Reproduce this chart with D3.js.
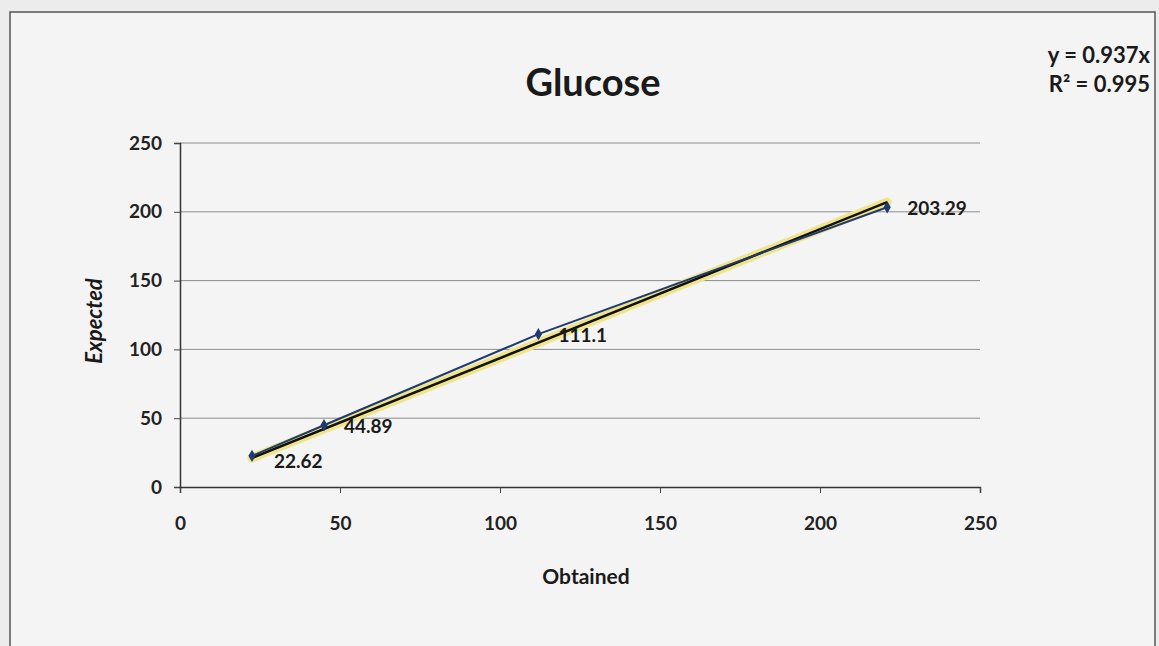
<!DOCTYPE html>
<html>
<head>
  <meta charset="utf-8">
  <title>Glucose</title>
  <script src="https://d3js.org/d3.v7.min.js"></script>
  <style>
    body { margin: 0; background: #ececec; }
    svg { display: block; }
    .tick text { font-family: "Lato", "Open Sans", sans-serif; font-size: 19px; font-weight: bold; fill: #222; }
  </style>
</head>
<body>
  <svg id="chart"></svg>
  <script>
    // Glucose: obtained vs expected
    const obtained = [22.5, 45, 112, 221];
    const expected = [22.62, 44.89, 111.1, 203.29];
    const ticks = [0, 50, 100, 150, 200, 250];
    const slope = 0.937;
    const equation = ["y = 0.937x", "R² = 0.995"];

    const W = 1159, H = 646;
    const svg = d3.select("#chart").attr("width", W).attr("height", H);

    // page / frame
    svg.append("rect").attr("x", 0).attr("y", 0).attr("width", W).attr("height", H).attr("fill", "#ececec");
    svg.append("rect").attr("x", 10).attr("y", 12).attr("width", 1145).attr("height", 650)
      .attr("fill", "#f4f4f4").attr("stroke", "#555").attr("stroke-width", 1.5);

    const x = d3.scaleLinear().domain([0, 250]).range([180, 980]);
    const y = d3.scaleLinear().domain([0, 250]).range([487, 143]);

    // gridlines
    svg.append("g")
      .selectAll("line")
      .data(ticks.slice(1))
      .enter().append("line")
      .attr("x1", x(0)).attr("x2", x(250))
      .attr("y1", d => y(d)).attr("y2", d => y(d))
      .attr("stroke", "#8c8c8c").attr("stroke-width", 1);

    // axes
    const xAxis = svg.append("g")
      .attr("transform", `translate(0,${y(0)})`)
      .call(d3.axisBottom(x).tickValues(ticks).tickSize(6).tickPadding(24));
    xAxis.select(".domain").attr("stroke", "#333").attr("stroke-width", 1.5);
    xAxis.selectAll(".tick line").attr("stroke", "#444");

    const yAxis = svg.append("g")
      .attr("transform", `translate(${x(0)},0)`)
      .call(d3.axisLeft(y).tickValues(ticks).tickSize(6).tickPadding(12));
    yAxis.select(".domain").attr("stroke", "#333").attr("stroke-width", 1.5);
    yAxis.selectAll(".tick line").attr("stroke", "#444");

    const pts = obtained.map((o, i) => ({ x: o, y: expected[i] }));

    // trendline y = 0.937x (highlighted)
    const xr = d3.extent(obtained);
    const trend = [{ x: xr[0], y: slope * xr[0] }, { x: xr[1], y: slope * xr[1] }];
    const line = d3.line().x(d => x(d.x)).y(d => y(d.y));
    svg.append("path").datum(trend).attr("d", line)
      .attr("fill", "none").attr("stroke", "#efe48a").attr("stroke-width", 9).attr("stroke-linecap", "round");
    svg.append("path").datum(trend).attr("d", line)
      .attr("fill", "none").attr("stroke", "#111").attr("stroke-width", 2.5);

    // series line + markers
    svg.append("path").datum(pts).attr("d", line)
      .attr("fill", "none").attr("stroke", "#1f3a6e").attr("stroke-width", 2);
    svg.append("g").selectAll("path")
      .data(pts).enter().append("path")
      .attr("d", d3.symbol().type(d3.symbolDiamond).size(45))
      .attr("transform", d => `translate(${x(d.x)},${y(d.y)})`)
      .attr("fill", "#1f3a6e");

    // data labels
    const lblOff = [[22, 12], [20, 8], [20, 8], [20, 8]];
    svg.append("g").selectAll("text")
      .data(pts).enter().append("text")
      .attr("x", (d, i) => x(d.x) + lblOff[i][0])
      .attr("y", (d, i) => y(d.y) + lblOff[i][1])
      .attr("font-family", "Lato, 'Open Sans', sans-serif")
      .attr("font-size", 19).attr("font-weight", "bold").attr("fill", "#1a1a1a")
      .text(d => d.y);

    // title
    svg.append("text").attr("x", 593).attr("y", 96).attr("text-anchor", "middle")
      .attr("font-family", "Lato, 'Open Sans', sans-serif").attr("font-size", 38).attr("font-weight", "bold")
      .attr("fill", "#1a1a1a").text("Glucose");

    // axis titles
    svg.append("text").attr("transform", "translate(102,321) rotate(-90)").attr("text-anchor", "middle")
      .attr("font-family", "Lato, 'Open Sans', sans-serif").attr("font-size", 22).attr("font-weight", "bold")
      .attr("font-style", "italic").attr("fill", "#1a1a1a").text("Expected");
    svg.append("text").attr("x", 586).attr("y", 584).attr("text-anchor", "middle")
      .attr("font-family", "Lato, 'Open Sans', sans-serif").attr("font-size", 21).attr("font-weight", "bold")
      .attr("fill", "#1a1a1a").text("Obtained");

    // equation
    svg.append("g").selectAll("text")
      .data(equation).enter().append("text")
      .attr("x", 1150).attr("y", (d, i) => 63 + i * 29).attr("text-anchor", "end")
      .attr("font-family", "Lato, 'Open Sans', sans-serif").attr("font-size", 22).attr("font-weight", "bold")
      .attr("fill", "#1a1a1a").text(d => d);
  </script>
</body>
</html>
